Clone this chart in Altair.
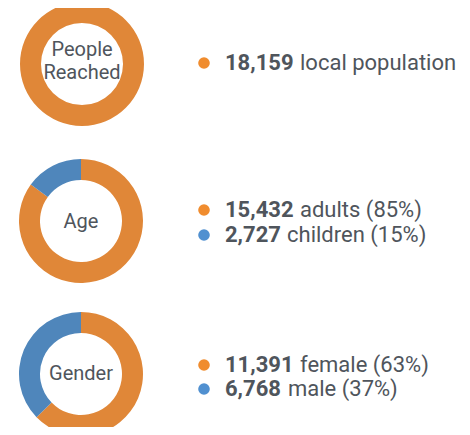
import altair as alt
import pandas as pd

# Data
people_values = [18159]
people_cats = ["primary"]
age_values = [15432, 2727]
age_cats = ["primary", "secondary"]
gender_values = [11391, 6768]
gender_cats = ["primary", "secondary"]

center_titles = [["People", "Reached"], ["Age"], ["Gender"]]
line_labels = [
    ["local population"],
    ["adults (85%)", "children (15%)"],
    ["female (63%)", "male (37%)"],
]
line_numbers = [people_values, age_values, gender_values]
line_cats = [people_cats, age_cats, gender_cats]

# Styles / layout
ARC_COLORS = {"primary": "#E08738", "secondary": "#4F86BB"}
DOT_COLORS = {"primary": "#F08C2E", "secondary": "#5090D0"}
TEXT_COLOR = "#4F555C"
FONT = "Roboto"

donut_centers = [(74, 56), (73, 213), (73, 366)]
title_baselines = [[48, 71], [220], [372]]
line_baselines = [[62], [209, 234], [364, 388]]
rest_x = [[292], [292, 279], [292, 280]]
DOT_X = 196
NUM_X = 217

layers = []
for i, (vals, cats) in enumerate(zip(line_numbers, line_cats)):
    df = pd.DataFrame({"value": vals, "cat": cats, "idx": list(range(len(vals)))})
    cx, cy = donut_centers[i]
    arc = alt.Chart(df).mark_arc(outerRadius=62, innerRadius=41).encode(
        theta=alt.Theta("value:Q", stack=True),
        order=alt.Order("idx:Q"),
        color=alt.Color(
            "cat:N",
            scale=alt.Scale(domain=list(ARC_COLORS.keys()), range=list(ARC_COLORS.values())),
            legend=None,
        ),
        x=alt.value(cx),
        y=alt.value(cy),
    )
    layers.append(arc)
    for j, t in enumerate(center_titles[i]):
        layers.append(
            alt.Chart(pd.DataFrame({"t": [t]})).mark_text(
                font=FONT, fontSize=20, color=TEXT_COLOR, align="center", baseline="alphabetic"
            ).encode(text="t:N", x=alt.value(cx), y=alt.value(title_baselines[i][j]))
        )
    for j, (v, c, lab) in enumerate(zip(vals, cats, line_labels[i])):
        yb = line_baselines[i][j]
        row = pd.DataFrame({"value": [v], "label": [lab]})
        layers.append(
            alt.Chart(row).mark_circle(size=135, opacity=1, color=DOT_COLORS[c]).encode(
                x=alt.value(DOT_X), y=alt.value(yb - 7)
            )
        )
        layers.append(
            alt.Chart(row).mark_text(
                font=FONT, fontSize=22, fontWeight="bold", color=TEXT_COLOR,
                align="left", baseline="alphabetic"
            ).encode(text=alt.Text("value:Q", format=","), x=alt.value(NUM_X), y=alt.value(yb))
        )
        layers.append(
            alt.Chart(row).mark_text(
                font=FONT, fontSize=22, color=TEXT_COLOR, align="left", baseline="alphabetic"
            ).encode(text="label:N", x=alt.value(rest_x[i][j]), y=alt.value(yb))
        )

chart = (
    alt.layer(*layers)
    .resolve_scale(theta="independent")
    .properties(width=454, height=419, padding=0, autosize="none")
    .configure_view(stroke=None)
)

chart.save("out.html", embed_options={"renderer": "svg", "actions": False})
